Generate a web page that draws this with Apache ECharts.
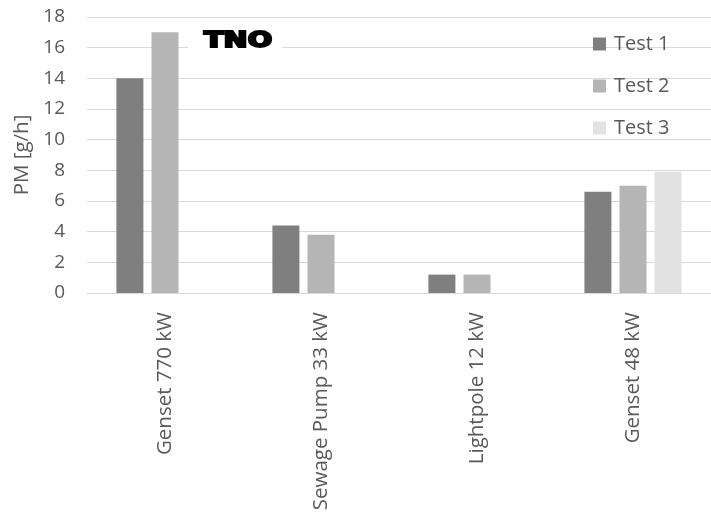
<!DOCTYPE html>
<html>
<head>
<meta charset="utf-8">
<script src="https://cdn.jsdelivr.net/npm/echarts@6/dist/echarts.min.js"></script>
<style>
  html, body { margin: 0; padding: 0; background: #fff; }
  #chart { width: 711px; height: 518px; }
</style>
</head>
<body>
<div id="chart"></div>
<script>
// PM emission per installation and test run
const categories = ['Genset 770 kW', 'Sewage Pump 33 kW', 'Lightpole 12 kW', 'Genset 48 kW'];
const test1 = [14.0, 4.4, 1.2, 6.6];
const test2 = [17.0, 3.8, 1.2, 7.0];
const test3 = [null, null, null, 7.9];
const yTicks = [0, 2, 4, 6, 8, 10, 12, 14, 16, 18];

const textColor = '#595959';
const font = '"Open Sans", "Noto Sans", sans-serif';

const chart = echarts.init(document.getElementById('chart'));

function bar(name, data, color) {
  return {
    name: name,
    type: 'bar',
    data: data,
    barWidth: 27,
    barGap: '30%',
    itemStyle: { color: color },
    emphasis: { disabled: true }
  };
}

chart.setOption({
  animation: false,
  grid: { left: 87, right: 0, top: 17, bottom: 225 },
  legend: {
    orient: 'vertical',
    left: 588,
    top: 29,
    itemWidth: 13,
    itemHeight: 13,
    itemGap: 22,
    icon: 'rect',
    textStyle: { color: textColor, fontSize: 20, fontFamily: font, padding: [0, 0, 0, 3] },
    data: ['Test 1', 'Test 2', 'Test 3']
  },
  xAxis: {
    type: 'category',
    data: categories,
    axisLine: { lineStyle: { color: '#d9d9d9', width: 1 } },
    axisTick: { show: false },
    axisLabel: {
      rotate: 90,
      color: textColor,
      fontSize: 20.5,
      fontFamily: font,
      margin: 19
    }
  },
  yAxis: {
    type: 'value',
    min: yTicks[0],
    max: yTicks[yTicks.length - 1],
    interval: 2,
    name: 'PM [g/h]',
    nameLocation: 'middle',
    nameGap: 54,
    nameRotate: 90,
    nameTextStyle: { color: textColor, fontSize: 20.5, fontFamily: font },
    axisLine: { show: false },
    axisTick: { show: false },
    splitLine: { lineStyle: { color: '#d9d9d9', width: 1 } },
    axisLabel: { color: textColor, fontSize: 19, fontFamily: font, margin: 22 }
  },
  series: [
    bar('Test 1', test1, '#7f7f7f'),
    bar('Test 2', test2, '#b5b5b5'),
    bar('Test 3', test3, '#e2e2e2')
  ],
  graphic: [{
    type: 'rect',
    left: 188,
    top: 32,
    z: 99,
    shape: { width: 94, height: 22 },
    style: { fill: '#fff' }
  }, {
    type: 'text',
    x: 204,
    y: 31,
    scaleX: 1.37,
    z: 100,
    style: {
      text: 'TNO',
      fill: '#000',
      stroke: '#000',
      lineWidth: 2,
      font: '900 21px "DejaVu Sans", sans-serif'
    }
  }]
});
</script>
</body>
</html>
